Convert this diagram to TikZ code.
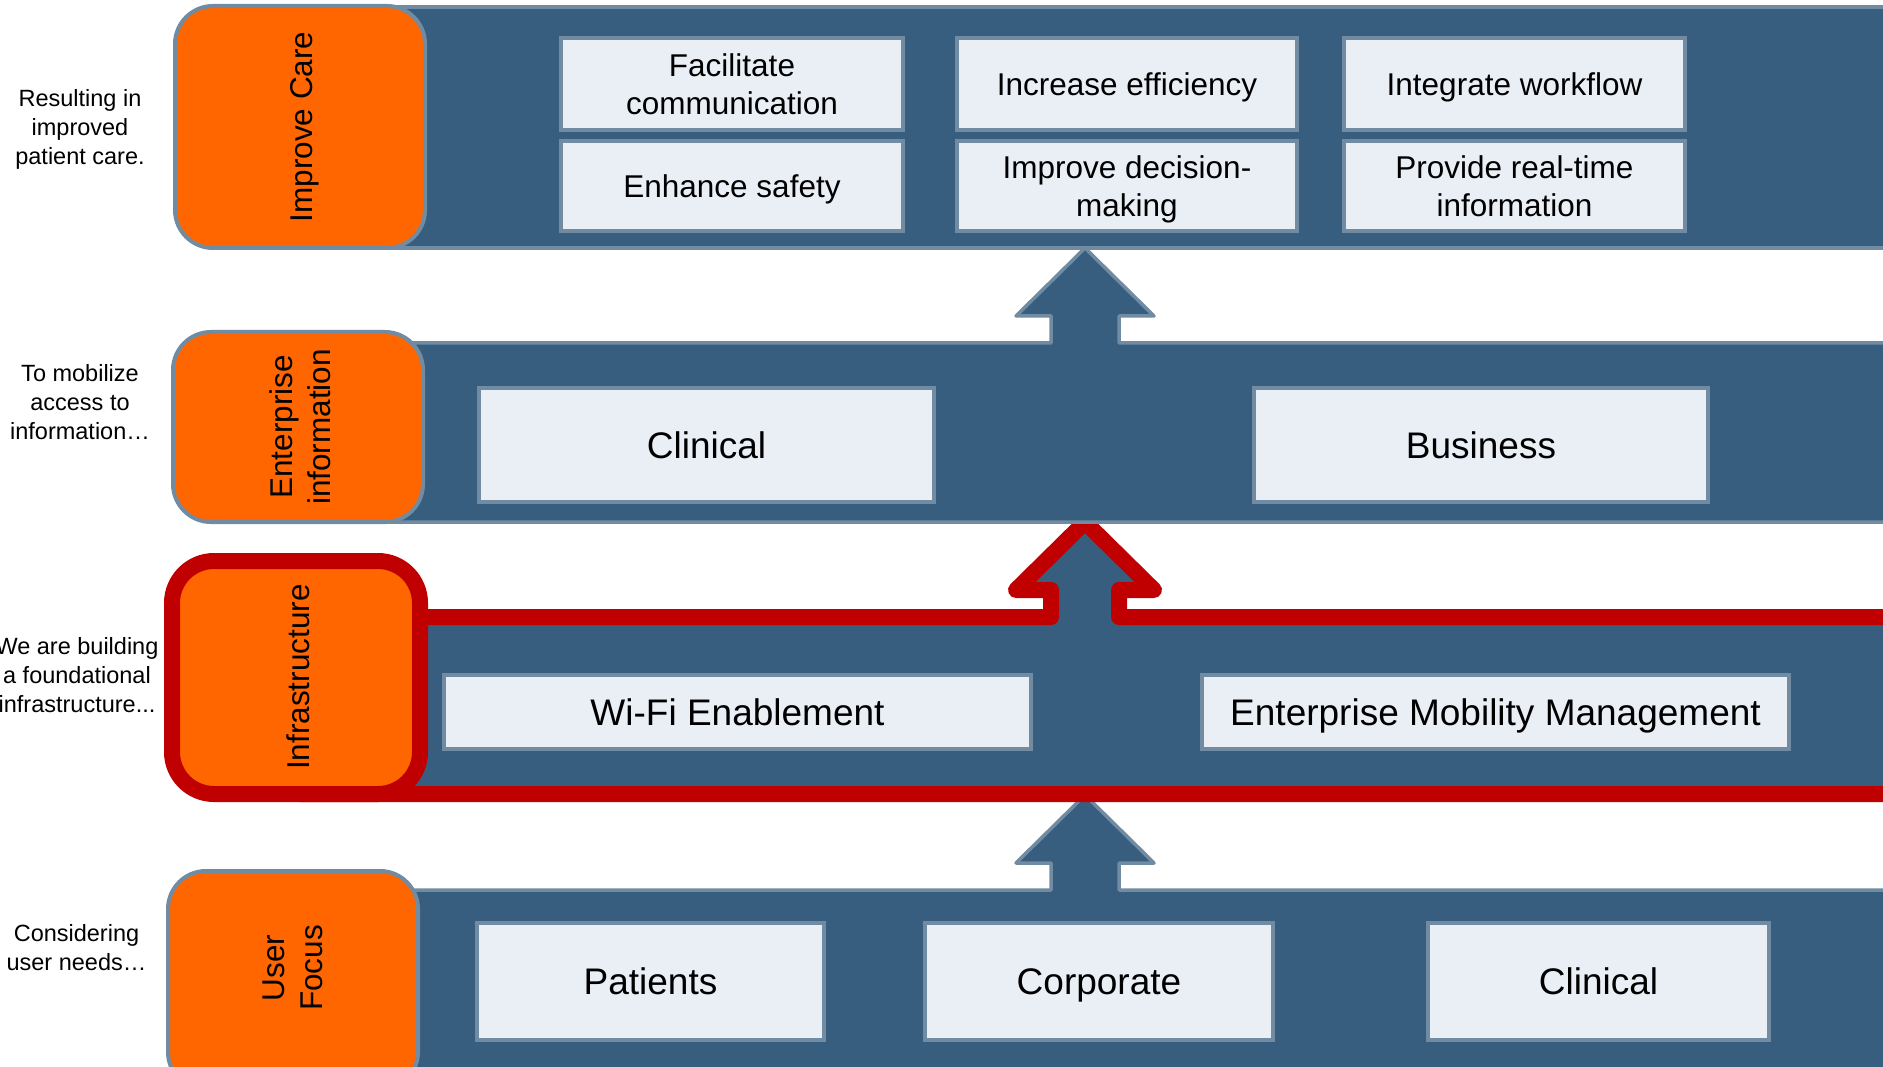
\documentclass[tikz,border=0pt]{standalone}
\usepackage{fontspec}
\setmainfont{Liberation Sans}
\definecolor{bandblue}{RGB}{55,94,126}
\definecolor{edgeblue}{RGB}{112,139,162}
\definecolor{boxfill}{RGB}{234,239,246}
\definecolor{careorange}{RGB}{255,102,0}
\definecolor{infrared}{RGB}{192,0,0}
\tikzset{
  band/.style={fill=bandblue, draw=edgeblue, line width=3.5pt, line join=round},
  redband/.style={fill=bandblue, draw=infrared, line width=16pt, line join=round},
  sidebox/.style={fill=careorange, draw=edgeblue, line width=4pt, rounded corners=38pt, inner sep=0pt},
  itembox/.style={fill=boxfill, draw=edgeblue, line width=4pt, inner sep=0pt, align=center,
    text depth=0pt, font=\fontsize{31.5}{38}\selectfont},
  bigitem/.style={itembox, font=\fontsize{37}{44}\selectfont},
  sidelabel/.style={rotate=90, align=center, text depth=0pt, font=\fontsize{31.5}{38}\selectfont},
  caption/.style={align=center, font=\fontsize{23.5}{29}\selectfont},
}
\begin{document}
\begin{tikzpicture}[x=1pt,y=-1pt]
\useasboundingbox (0,0) rectangle (1883,1067);
% User Focus
\draw[band] (300,890) -- (1051,890) -- (1051,863) -- (1016,863) -- (1085,795) -- (1154,863) -- (1119,863) -- (1119,890) -- (1900,890) -- (1900,1100) -- (300,1100) -- cycle; % userband
\node[sidebox, minimum width=250pt, minimum height=219pt] (user) at (293,980.5) {};
\node[sidelabel] (userlbl) at (293,968) {User\\Focus};
% Infrastructure
\draw[redband] (300,617) -- (1051,617) -- (1051,590) -- (1016,590) -- (1085,522) -- (1154,590) -- (1119,590) -- (1119,617) -- (1900,617) -- (1900,794) -- (300,794) -- cycle; % infraband
\node[sidebox, draw=infrared, line width=16pt, rounded corners=42pt, minimum width=248pt, minimum height=233pt] (infra) at (296,677.5) {};
\node[sidelabel] (infralbl) at (298,677) {Infrastructure};
% Enterprise information
\draw[band] (300,343) -- (1051,343) -- (1051,316) -- (1016,316) -- (1085,248) -- (1154,316) -- (1119,316) -- (1119,343) -- (1900,343) -- (1900,522) -- (300,522) -- cycle; % infoband
\node[sidebox, minimum width=250pt, minimum height=190pt] (info) at (298,427) {};
\node[sidelabel] (infolbl) at (300,427) {Enterprise\\information};
% Improve Care
\draw[band] (300,7) rectangle (1900,248); % careband
\node[sidebox, minimum width=250pt, minimum height=242pt] (care) at (300,127) {};
\node[sidelabel] (carelbl) at (301,127) {Improve Care};

\node[itembox, minimum width=342pt, minimum height=92pt] (comm) at (732,84) {Facilitate\\communication};
\node[itembox, minimum width=340pt, minimum height=92pt] (eff) at (1127,84) {Increase efficiency};
\node[itembox, minimum width=341pt, minimum height=92pt] (flow) at (1514.5,84) {Integrate workflow};
\node[itembox, minimum width=342pt, minimum height=90pt] (safe) at (732,186) {Enhance safety};
\node[itembox, minimum width=340pt, minimum height=90pt] (dec) at (1127,186) {Improve decision-\\making};
\node[itembox, minimum width=341pt, minimum height=90pt] (rt) at (1514.5,186) {Provide real-time\\information};

\node[bigitem, minimum width=455pt, minimum height=114pt] (clin) at (706.5,445) {Clinical};
\node[bigitem, minimum width=454pt, minimum height=114pt] (bus) at (1481,445) {Business};

\node[bigitem, minimum width=587pt, minimum height=74pt] (wifi) at (737.5,712) {Wi-Fi Enablement};
\node[bigitem, minimum width=587pt, minimum height=74pt] (emm) at (1495.5,712) {Enterprise Mobility Management};

\node[bigitem, minimum width=347pt, minimum height=117pt] (pat) at (650.5,981.5) {Patients};
\node[bigitem, minimum width=348pt, minimum height=117pt] (corp) at (1099,981.5) {Corporate};
\node[bigitem, minimum width=341pt, minimum height=117pt] (uclin) at (1598.5,981.5) {Clinical};

\node[caption] (capcare) at (80,129) {Resulting in\\improved\\patient care.};
\node[caption] (capinfo) at (80,402) {To mobilize\\access to\\information…};
\node[caption] (capinfra) at (77,675) {We are building\\a foundational\\infrastructure...};
\node[caption] (capuser) at (76.5,948) {Considering\\user needs…};
\end{tikzpicture}
\end{document}
